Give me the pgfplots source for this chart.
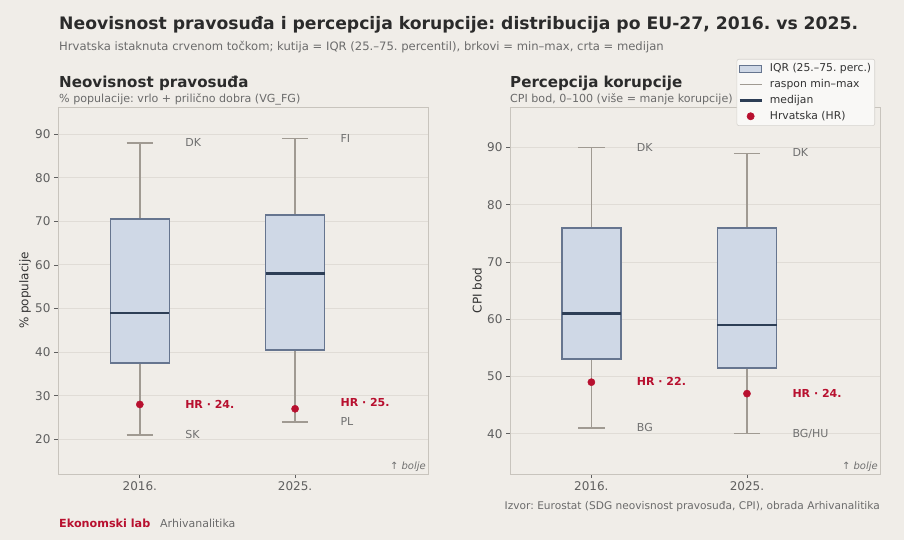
\documentclass[border=0pt]{standalone}
\usepackage{fontspec}
\setmainfont{DejaVu Sans}
\usepackage{pgfplots}
\pgfplotsset{compat=1.18}
\usepgfplotslibrary{statistics}
\frenchspacing
\definecolor{bg}{HTML}{F0EDE8}
\definecolor{boxfill}{HTML}{CFD8E6}
\definecolor{boxedge}{HTML}{66758F}
\definecolor{mediancol}{HTML}{2D3E56}
\definecolor{whiskercol}{HTML}{A09A92}
\definecolor{crimson}{HTML}{B8102F}
\definecolor{gridcol}{HTML}{E0DCD6}
\definecolor{framecol}{HTML}{C8C4BD}
\definecolor{titlecol}{HTML}{2B2B2B}
\definecolor{subcol}{HTML}{6B6B6B}
\definecolor{annotcol}{HTML}{707070}
\definecolor{ticklab}{HTML}{5F5F5F}
\definecolor{labcol}{HTML}{333333}
\definecolor{legframe}{HTML}{D6D3CE}
\definecolor{legfill}{HTML}{F9F8F6}
\pgfplotsset{
  myaxis/.style={
    scale only axis, width=370pt, height=367pt,
    axis line style={draw=framecol, line width=0.9pt},
    ymajorgrids, grid style={draw=gridcol, line width=0.8pt},
    xtick={0,1}, xticklabels={2016.,2025.},
    tick align=outside, xtick pos=bottom, ytick pos=left,
    major tick length=4pt,
    tick style={draw=ticklab, line width=0.7pt},
    tick label style={font=\fontsize{12}{14}\selectfont, text=ticklab},
    /pgf/number format/assume math mode=true,
    ylabel style={font=\fontsize{12}{14}\selectfont, text=labcol, at={(axis description cs:-0.089,0.5)}, anchor=center},
    clip=false,
    boxplot/draw direction=y,
    boxplot/every box/.style={fill=boxfill, draw=boxedge, line width=1.6pt},
    boxplot/every whisker/.style={draw=whiskercol, line width=1.5pt},
    boxplot/every median/.style={draw=mediancol, line width=2.6pt},
  },
}
\tikzset{
  annot/.style={anchor=west, font=\fontsize{11}{13}\selectfont, text=annotcol},
  hrlab/.style={anchor=west, font=\fontsize{11}{13}\selectfont\bfseries, text=crimson},
  bolje/.style={anchor=south east, font=\fontsize{10}{12}\selectfont\itshape, text=annotcol, inner sep=2pt},
}
\begin{document}
\begin{tikzpicture}[x=1pt,y=1pt]
\fill[bg] (0,0) rectangle (904,540);
\node[anchor=base west, inner sep=0, font=\fontsize{17.2}{20}\selectfont\bfseries, text=titlecol] at (59,510) {Neovisnost pravosuđa i percepcija korupcije: distribucija po EU-27, 2016. vs 2025.};
\node[anchor=base west, inner sep=0, font=\fontsize{11.6}{14}\selectfont, text=subcol] at (59,489) {Hrvatska istaknuta crvenom točkom; kutija = IQR (25.–75. percentil), brkovi = min–max, crta = medijan};
\node[anchor=base west, inner sep=0, font=\fontsize{15.1}{18}\selectfont\bfseries, text=titlecol] at (59,452) {Neovisnost pravosuđa};
\node[anchor=base west, inner sep=0, font=\fontsize{11.1}{13}\selectfont, text=subcol] at (59,437) {\% populacije: vrlo + prilično dobra (VG\_FG)};
\node[anchor=base west, inner sep=0, font=\fontsize{15.1}{18}\selectfont\bfseries, text=titlecol] at (510,452) {Percepcija korupcije};
\node[anchor=base west, inner sep=0, font=\fontsize{11.1}{13}\selectfont, text=subcol] at (510,437) {CPI bod, 0–100 (više = manje korupcije)};

% Left axis
\begin{axis}[myaxis, at={(58pt,66pt)}, anchor=south west,
  xmin=-0.527, xmax=1.856, ymin=12.05, ymax=96.2,
  ytick={20,30,...,90}, ylabel={\% populacije}]
\addplot[forget plot, boxplot prepared={draw position=0, lower whisker=21, lower quartile=37.5, median=49, upper quartile=70.5, upper whisker=88, box extend=0.38, whisker extend=0.17}] coordinates {};
\addplot[forget plot, boxplot prepared={draw position=1, lower whisker=24, lower quartile=40.5, median=58, upper quartile=71.5, upper whisker=89, box extend=0.38, whisker extend=0.17}] coordinates {};
\addplot[forget plot, only marks, mark=*, mark size=3.6pt, draw=crimson, fill=crimson] coordinates {(0,28) (1,27)};
\node[annot] at (axis cs:0.27,88) {DK};
\node[annot] at (axis cs:0.27,21) {SK};
\node[hrlab] at (axis cs:0.27,28) {HR · 24.};
\node[annot] at (axis cs:1.27,89) {FI};
\node[annot] at (axis cs:1.27,24) {PL};
\node[hrlab] at (axis cs:1.27,28.4) {HR · 25.};
\node[bolje] at (rel axis cs:1,0) {↑ bolje};
\end{axis}

% Right axis
\begin{axis}[myaxis, at={(510pt,66pt)}, anchor=south west,
  xmin=-0.523, xmax=1.855, ymin=32.95, ymax=97.1,
  ytick={40,50,...,90}, ylabel={CPI bod},
  legend style={at={(0.9865,1.131)}, anchor=north east, fill=legfill, draw=legframe, line width=0.6pt,
    rounded corners=2pt,
    font=\fontsize{10.8}{12}\selectfont, text=labcol, row sep=2.2pt, inner xsep=1.5pt, inner ysep=2.5pt,
    /tikz/every odd column/.append style={column sep=5pt}},
  legend cell align=left]
\addplot[forget plot, boxplot prepared={draw position=0, lower whisker=41, lower quartile=53, median=61, upper quartile=76, upper whisker=90, box extend=0.38, whisker extend=0.17}] coordinates {};
\addplot[forget plot, boxplot prepared={draw position=1, lower whisker=40, lower quartile=51.5, median=59, upper quartile=76, upper whisker=89, box extend=0.38, whisker extend=0.17}] coordinates {};
\addplot[forget plot, only marks, mark=*, mark size=3.6pt, draw=crimson, fill=crimson] coordinates {(0,49) (1,47)};
\node[annot] at (axis cs:0.27,90) {DK};
\node[annot] at (axis cs:0.27,41) {BG};
\node[hrlab] at (axis cs:0.27,49.1) {HR · 22.};
\node[annot] at (axis cs:1.27,89.1) {DK};
\node[annot] at (axis cs:1.27,40) {BG/HU};
\node[hrlab] at (axis cs:1.27,47) {HR · 24.};
\node[bolje] at (rel axis cs:1,0) {↑ bolje};
\addlegendimage{legend image code/.code={\draw[fill=boxfill, draw=boxedge, line width=1pt, sharp corners] (0pt,-3.5pt) rectangle (22pt,3.5pt);}}
\addlegendentry{IQR (25.–75. perc.)}
\addlegendimage{legend image code/.code={\draw[draw=whiskercol, line width=1.5pt, sharp corners] (0pt,0pt) -- (22pt,0pt);}}
\addlegendentry{raspon min–max}
\addlegendimage{legend image code/.code={\draw[draw=mediancol, line width=2.5pt, sharp corners] (0pt,0pt) -- (22pt,0pt);}}
\addlegendentry{medijan}
\addlegendimage{legend image code/.code={\fill[crimson] (11pt,0pt) circle (3.6pt);}}
\addlegendentry{Hrvatska (HR)}
\end{axis}

\node[anchor=base east, inner sep=0, font=\fontsize{10.6}{12}\selectfont, text=subcol] at (880,30) {Izvor: Eurostat (SDG neovisnost pravosuđa, CPI), obrada Arhivanalitika};
\node[anchor=base west, inner sep=0, font=\fontsize{11.2}{13}\selectfont\bfseries, text=crimson] at (59,12) {Ekonomski lab};
\node[anchor=base west, inner sep=0, font=\fontsize{11}{13}\selectfont, text=subcol] at (160,12) {Arhivanalitika};
\end{tikzpicture}
\end{document}
